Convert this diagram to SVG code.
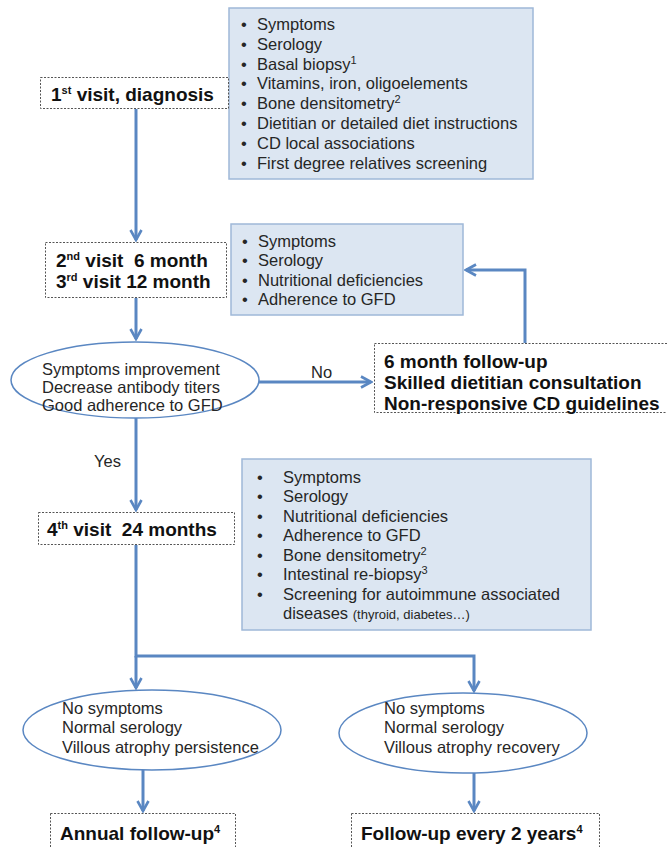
<svg xmlns="http://www.w3.org/2000/svg" width="667" height="847" viewBox="0 0 667 847">
<defs>
<style>
.t{font-family:"Liberation Sans",Arial,sans-serif;font-size:16.5px;fill:#262626}
.b{font-family:"Liberation Sans",Arial,sans-serif;font-size:19px;font-weight:bold;fill:#111}
.sup{font-size:11px}
.blue{fill:#dce6f2;stroke:#9fb8d8;stroke-width:1.5}
.dash{fill:#fff;stroke:#555;stroke-width:1;stroke-dasharray:2,1.5}
.ell{fill:#fff;stroke:#5a87c2;stroke-width:1.5}
.c{fill:none;stroke:#5a87c2;stroke-width:3}
</style>
<marker id="ah" viewBox="0 0 14 14" refX="12" refY="7" markerWidth="14" markerHeight="14" markerUnits="userSpaceOnUse" orient="auto">
<path d="M2,1.5 L12,7 L2,12.5" fill="none" stroke="#5a87c2" stroke-width="2.6"/>
</marker>
</defs>
<rect width="667" height="847" fill="#fff"/>

<g id="connectors">
<path class="c" d="M136,109 V240" marker-end="url(#ah)"/>
<path class="c" d="M136,298 V339" marker-end="url(#ah)"/>
<path class="c" d="M259,382 H371" marker-end="url(#ah)"/>
<path class="c" d="M525,343 V270 H466" marker-end="url(#ah)"/>
<path class="c" d="M136,418 V510" marker-end="url(#ah)"/>
<path class="c" d="M136,545 V656 H474 V691" marker-end="url(#ah)"/>
<path class="c" d="M136,656 V688" marker-end="url(#ah)"/>
<path class="c" d="M143,770 V811" marker-end="url(#ah)"/>
<path class="c" d="M474,773 V811" marker-end="url(#ah)"/>
</g>

<g id="info1">
<rect class="blue" x="229" y="8" width="304" height="171"/>
<text class="t">
<tspan x="241" y="30">•</tspan><tspan x="257" y="30">Symptoms</tspan>
<tspan x="241" y="50">•</tspan><tspan x="257" y="50">Serology</tspan>
<tspan x="241" y="70">•</tspan><tspan x="257" y="70">Basal biopsy</tspan><tspan class="sup" dy="-6">1</tspan>
<tspan x="241" y="89">•</tspan><tspan x="257" y="89">Vitamins, iron, oligoelements</tspan>
<tspan x="241" y="109">•</tspan><tspan x="257" y="109">Bone densitometry</tspan><tspan class="sup" dy="-6">2</tspan>
<tspan x="241" y="129">•</tspan><tspan x="257" y="129">Dietitian or detailed diet instructions</tspan>
<tspan x="241" y="149">•</tspan><tspan x="257" y="149">CD local associations</tspan>
<tspan x="241" y="169">•</tspan><tspan x="257" y="169">First degree relatives screening</tspan>
</text>
</g>

<g id="visit1">
<rect class="dash" x="40.5" y="77.5" width="188" height="31"/>
<text class="b" x="51" y="101">1<tspan class="sup" dy="-7">st</tspan><tspan dy="7"> visit, diagnosis</tspan></text>
</g>

<g id="visit23">
<rect class="dash" x="45.5" y="242.5" width="181" height="55"/>
<text class="b"><tspan x="56" y="267">2</tspan><tspan class="sup" dy="-7">nd</tspan><tspan dy="7"> visit&#160; 6 month</tspan>
<tspan x="56" y="288">3</tspan><tspan class="sup" dy="-7">rd</tspan><tspan dy="7"> visit 12 month</tspan></text>
</g>

<g id="info2">
<rect class="blue" x="231" y="224" width="232" height="91"/>
<text class="t">
<tspan x="242" y="247">•</tspan><tspan x="258" y="247">Symptoms</tspan>
<tspan x="242" y="266">•</tspan><tspan x="258" y="266">Serology</tspan>
<tspan x="242" y="286">•</tspan><tspan x="258" y="286">Nutritional deficiencies</tspan>
<tspan x="242" y="305">•</tspan><tspan x="258" y="305">Adherence to GFD</tspan>
</text>
</g>

<g id="decision">
<ellipse class="ell" cx="135" cy="380" rx="124" ry="38"/>
<text class="t"><tspan x="42" y="375">Symptoms improvement</tspan><tspan x="42" y="393">Decrease antibody titers</tspan><tspan x="42" y="411">Good adherence to GFD</tspan></text>
</g>

<g id="label-no"><text class="t" x="311" y="378">No</text></g>
<g id="label-yes"><text class="t" x="94" y="467">Yes</text></g>

<g id="followup6">
<rect class="dash" x="374.5" y="343.5" width="300" height="69"/>
<text class="b"><tspan x="384" y="368">6 month follow-up</tspan><tspan x="384" y="389">Skilled dietitian consultation</tspan><tspan x="384" y="410">Non-responsive CD guidelines</tspan></text>
</g>

<g id="visit4">
<rect class="dash" x="38.5" y="512.5" width="196" height="32"/>
<text class="b" x="47" y="536">4<tspan class="sup" dy="-7">th</tspan><tspan dy="7"> visit&#160; 24 months</tspan></text>
</g>

<g id="info3">
<rect class="blue" x="242" y="459" width="349" height="171"/>
<text class="t">
<tspan x="257" y="483">•</tspan><tspan x="283" y="483">Symptoms</tspan>
<tspan x="257" y="502">•</tspan><tspan x="283" y="502">Serology</tspan>
<tspan x="257" y="522">•</tspan><tspan x="283" y="522">Nutritional deficiencies</tspan>
<tspan x="257" y="541">•</tspan><tspan x="283" y="541">Adherence to GFD</tspan>
<tspan x="257" y="561">•</tspan><tspan x="283" y="561">Bone densitometry</tspan><tspan class="sup" dy="-6">2</tspan>
<tspan x="257" y="580">•</tspan><tspan x="283" y="580">Intestinal re-biopsy</tspan><tspan class="sup" dy="-6">3</tspan>
<tspan x="257" y="600">•</tspan><tspan x="283" y="600">Screening for autoimmune associated</tspan>
<tspan x="283" y="619">diseases </tspan><tspan font-size="13">(thyroid, diabetes…)</tspan>
</text>
</g>

<g id="outcomeA">
<ellipse class="ell" cx="152" cy="730" rx="129" ry="40"/>
<text class="t"><tspan x="62" y="714">No symptoms</tspan><tspan x="62" y="733">Normal serology</tspan><tspan x="62" y="753">Villous atrophy persistence</tspan></text>
</g>

<g id="outcomeB">
<ellipse class="ell" cx="463" cy="733" rx="124" ry="40"/>
<text class="t"><tspan x="384" y="714">No symptoms</tspan><tspan x="384" y="733">Normal serology</tspan><tspan x="384" y="753">Villous atrophy recovery</tspan></text>
</g>

<g id="annual">
<rect class="dash" x="50.5" y="813.5" width="185" height="40"/>
<text class="b" x="60" y="840">Annual follow-up<tspan class="sup" dy="-7">4</tspan></text>
</g>

<g id="every2">
<rect class="dash" x="351.5" y="813.5" width="248" height="40"/>
<text class="b" x="361" y="840">Follow-up every 2 years<tspan class="sup" dy="-7">4</tspan></text>
</g>
</svg>
